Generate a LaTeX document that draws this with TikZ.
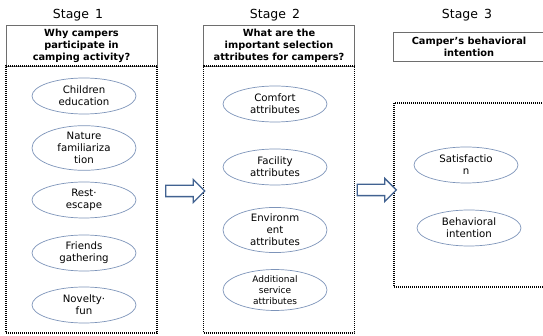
\documentclass[tikz,border=0pt]{standalone}
\usepackage{fontspec}
\setmainfont{DejaVu Sans}
\usetikzlibrary{shapes.geometric,shapes.arrows}
\definecolor{ovalblue}{RGB}{125,148,185}
\definecolor{arrowblue}{RGB}{65,98,145}
\definecolor{boxgray}{RGB}{110,110,110}

\begin{document}
\begin{tikzpicture}[x=1pt,y=-1pt,
  stagelabel/.style={font=\fontsize{12.5}{14}\selectfont},
  headbox/.style={draw=boxgray,line width=0.8pt,minimum width=151pt,inner sep=0pt,align=center,font=\fontsize{9.8}{12}\selectfont\bfseries},
  dotbox/.style={draw,line width=1.1pt,dash pattern=on 1pt off 1pt,minimum width=151pt,inner sep=0pt},
  oval/.style={ellipse,draw=ovalblue,line width=0.7pt,minimum width=104pt,minimum height=36pt,inner sep=0pt,align=center,font=\fontsize{10.2}{12}\selectfont},
  bigarrow/.style={single arrow,draw=arrowblue,fill=white,line width=1.3pt,minimum height=39pt,minimum width=0pt,single arrow head extend=6pt,inner xsep=0pt,inner ysep=5pt}]
  \useasboundingbox (0,0) rectangle (543,336);
  \clip (0,0) rectangle (543,336);
  \node[stagelabel] (s1) at (78,15) {Stage\, 1};
  \node[stagelabel] (s2) at (275,15) {Stage\, 2};
  \node[stagelabel] (s3) at (467,15) {Stage\, 3};
  \node[headbox,minimum height=41pt] (h1) at (81.5,45.5) {Why campers\\participate in\\camping activity?};
  \node[headbox,minimum height=41pt] (h2) at (279,45.5) {What are the\\important selection\\attributes for campers?};
  \node[headbox,minimum height=29pt] (h3) at (469,46.5) {Camper's behavioral\\intention};
  \node[dotbox,minimum height=267pt] (b1) at (81.5,199.5) {};
  \node[dotbox,minimum height=267pt] (b2) at (279,199.5) {};
  \node[dotbox,minimum height=184pt] (b3) at (469.5,195) {};
  \node[oval] (c1) at (84,96) {Children\\education};
  \node[oval] (c2) at (84,148) {Nature\\familiariza\\tion};
  \node[oval] (c3) at (84,200) {Rest·\\escape};
  \node[oval] (c4) at (84,253) {Friends\\gathering};
  \node[oval] (c5) at (84,305) {Novelty·\\fun};
  \node[oval] (a1) at (275,104) {Comfort\\attributes};
  \node[oval] (a2) at (275,167) {Facility\\attributes};
  \node[oval] (a3) at (275,230) {Environm\\ent\\attributes};
  \node[oval,font=\fontsize{9}{11}\selectfont] (a4) at (275,290) {Additional\\service\\attributes};
  \node[oval] (i1) at (466,165) {Satisfactio\\n};
  \node[oval] (i2) at (469,228) {Behavioral\\intention};
  \node[bigarrow] (r1) at (182.5,191) {};
  \node[bigarrow] (r2) at (374,190) {};
\end{tikzpicture}
\end{document}
